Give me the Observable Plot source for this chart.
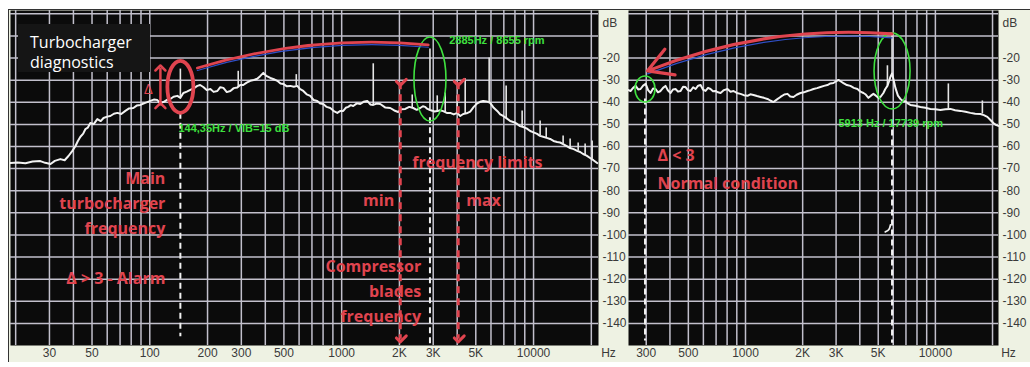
<!DOCTYPE html>
<html><head><meta charset="utf-8">
<script src="https://cdn.jsdelivr.net/npm/d3@7"></script>
<script src="https://cdn.jsdelivr.net/npm/@observablehq/plot@0.6"></script>
<style>
html,body{margin:0;padding:0;background:#fff;}
#wrap{position:relative;width:1030px;height:367px;overflow:hidden;background:#fff;}
#cream{position:absolute;left:8px;top:9px;width:1022px;height:353px;background:#eef2e3;border-top:1px solid #333;border-left:1px solid #333;box-sizing:border-box;}
.panel{position:absolute;top:0;}
#title{position:absolute;left:18px;top:24px;width:132px;height:48px;background:#151515;color:#fff;font:16px "Open Sans",sans-serif;line-height:20px;padding:8px 0 0 12px;box-sizing:border-box;}
</style></head>
<body>
<div id="wrap"><div id="cream"></div><div id="left" class="panel" style="left:0"></div><div id="right" class="panel" style="left:628px"></div><div id="title">Turbocharger<br>diagnostics</div></div>
<script>
// ---- data ----
const leftHz = [
 18.8, 20.5, 22.5, 24.5, 26.9, 28.5, 30.4, 32, 34.2, 36,
 37.7, 39.5, 41, 42.2, 43.5, 45, 46.2, 47.5, 49, 51,
 53.3, 55.5, 57.4, 60, 62.3, 65, 67.8, 71, 74.6, 78,
 82.1, 85.5, 89.4, 94, 100.7, 105, 109.5, 113, 117.7, 123,
 128, 133, 139.3, 144.35, 149.6, 156, 162.7, 170, 177, 183,
 190, 198, 206.9, 215, 225, 233, 241.8, 252, 263, 274,
 286, 296, 307, 320, 334, 348, 363, 376, 390.6, 405,
 424.8, 443, 462, 480, 496.5, 518, 540, 563, 587, 608,
 631, 657, 686, 715, 746, 773, 802, 835, 872, 910,
 949, 985, 1019, 1050, 1082, 1115, 1149, 1200, 1250, 1300,
 1360, 1410, 1461, 1520, 1589, 1690, 1791, 1880, 1971, 2050,
 2145, 2250, 2360, 2460, 2567, 2650, 2725, 2800, 2885, 2965,
 3050, 3148, 3260, 3382, 3530, 3678, 3840, 4000, 4150, 4299,
 4480, 4675, 4880, 5085, 5270, 5465, 5700, 5943, 6200, 6463,
 6700, 6945, 7250, 7553, 7900, 8215, 8500, 8829, 9200, 9603,
 10000, 10440, 10800, 11220, 11700, 12200, 12700, 13270, 13750, 14260,
 14900, 15510, 16200, 16870, 17500, 18130, 18900, 19710, 20500, 21450
];
const leftDb = [
 -67.5, -67.2, -67.6, -66.8, -66.6, -67.4, -67.9, -66.5, -65.7, -66.2,
 -64.3, -62, -59.8, -57.5, -55.6, -54.2, -52.1, -51.5, -49.4, -49.9,
 -47.6, -48.5, -47.1, -46.5, -46.2, -45.2, -44.8, -45.3, -43.9, -42.8,
 -42.6, -41.5, -41.2, -40.4, -39.4, -38.8, -39, -40.3, -39.9, -38.9,
 -38.5, -37.5, -37.1, -38, -35.8, -35.2, -34.4, -33.6, -32.6, -32.2,
 -33.1, -34.5, -34, -35.3, -34.9, -33.2, -33.5, -35.4, -34.9, -33.6,
 -33.3, -32.2, -32.2, -31.1, -30.3, -29.9, -29.4, -28.2, -26.7, -28.1,
 -29, -29.6, -30.3, -31.5, -31.7, -32.8, -32.6, -33, -32.6, -34.1,
 -34.9, -36.4, -37.1, -39, -39.4, -40.6, -40.8, -42.1, -42.6, -44,
 -44.8, -43.9, -43.9, -42.5, -42.1, -41.3, -41.7, -40.5, -40.8, -39.8,
 -39.4, -41, -41.2, -40.6, -40.8, -42.4, -42.6, -43.7, -44.4, -43.2,
 -43, -42.1, -42.6, -43.4, -42.6, -41.8, -42.1, -43, -43.5, -43.8,
 -44.2, -44, -43.6, -44, -44.8, -44.8, -45.5, -44.8, -46.2, -45.3,
 -45, -44.2, -42.1, -40.5, -39.8, -39.4, -39.6, -40.3, -42.5, -43.9,
 -45.5, -46.2, -47.3, -48.5, -49, -49.8, -50.8, -51.2, -51.8, -53,
 -53.6, -54.3, -55.2, -55.6, -56.1, -56.6, -57.5, -58, -58.2, -58.9,
 -59.8, -60.7, -61.2, -62, -62.5, -63.4, -64.1, -65.2, -66.2, -67.5
];
const rightHz = [
 242, 248, 256, 264, 272, 280, 289, 298, 307, 316,
 326, 336, 346, 357, 368, 379, 390, 403, 415, 428,
 441, 455, 469, 483, 498, 513, 530, 546, 563, 580,
 598, 616, 635, 654, 674, 695, 716, 739, 770, 804,
 834, 865, 900, 941, 980, 1025, 1060, 1102, 1150, 1199,
 1250, 1306, 1350, 1404, 1460, 1528, 1600, 1664, 1720, 1789,
 1860, 1948, 2030, 2120, 2200, 2280, 2380, 2482, 2590, 2701,
 2800, 2905, 3000, 3086, 3180, 3279, 3420, 3569, 3720, 3886,
 4030, 4179, 4300, 4441, 4580, 4717, 4860, 5012, 5160, 5325,
 5450, 5590, 5700, 5797, 5913, 6030, 6158, 6350, 6542, 6750,
 6952, 7150, 7386, 7850, 8338, 8850, 9412, 10000, 10625, 11300,
 11995, 12700, 13540, 14400, 15285, 16200, 17255, 18000, 18780, 19500,
 20200, 20800, 21460
];
const rightDb = [
 -34.5, -34.9, -33.5, -32.6, -34.2, -34, -32.5, -31.7, -34.5, -35.8,
 -33.8, -34, -35.5, -34.9, -33.5, -32.6, -34.6, -35.8, -34.2, -34,
 -35.2, -34.9, -33, -33.1, -34.5, -34.9, -33.2, -34, -32.5, -32.2,
 -34.3, -34.9, -33.5, -34, -35, -34.9, -35.5, -35.8, -34.5, -34,
 -35.2, -34.9, -35.8, -36.2, -36.8, -37.1, -36.4, -36.7, -37.2, -37.6,
 -38, -38.5, -39.2, -39.9, -38.8, -37.6, -36.5, -36.2, -37.4, -37.6,
 -36.6, -35.8, -35.5, -34.9, -34.5, -34, -33.6, -33.1, -32.6, -32.2,
 -31.5, -31.3, -30.5, -29.9, -30.6, -31.3, -32.2, -32.6, -33.5, -34,
 -35.2, -35.8, -36.5, -38, -37, -36.2, -37, -38, -37.4, -35.8,
 -34, -32.6, -30.5, -28.5, -27, -30, -33.5, -37, -38.5, -39.4,
 -39.5, -40.5, -41.2, -41.6, -42.1, -42.5, -43, -43.2, -43.5, -43.2,
 -43, -43.6, -43.9, -44.3, -44.8, -45.2, -45.3, -45.8, -46.6, -48,
 -49.4, -50.2, -50.7
];
const leftSpikeHz   = [144.35, 289, 580, 1461, 2332, 2885, 3148, 3464, 4000, 4403, 5871, 7200, 8720, 10820, 11640, 14260, 15510, 17080, 18570, 20200];
const leftSpikeBase = [-38, -33.3, -32.6, -41.2, -42.5, -43.5, -44, -44.5, -44.8, -45.2, -40.1, -47, -51, -55, -56, -58.9, -60.7, -62, -63.8, -65.8];
const leftSpikeTop  = [-25, -26, -27.5, -22.6, -36.7, -15.9, -37.1, -35.8, -37, -29.4, -20, -32.6, -44, -48.5, -51.6, -55.3, -56.6, -58.4, -58.9, -57.5];
const rightSpikeHz   = [5590, 5913, 11705, 17680];
const rightSpikeBase = [-32.6, -27, -43, -45.3];
const rightSpikeTop  = [-23.5, -9.5, -31.7, -39.4];
const hookHz = [5800, 5720, 5450];
const hookDb = [-95.5, -97.8, -98.6];
const leftTicks = [30, 50, 100, 200, 300, 500, 1000, 2000, 3000, 5000, 10000];
const leftTickLabels = ["30", "50", "100", "200", "300", "500", "1000", "2K", "3K", "5K", "10000"];
const rightTicks = [300, 500, 1000, 2000, 3000, 5000, 10000];
const rightTickLabels = ["300", "500", "1000", "2K", "3K", "5K", "10000"];
const dbTicks = [-20, -30, -40, -50, -60, -70, -80, -90, -100, -110, -120, -130, -140];
const dbGrid = [0, -10, -20, -30, -40, -50, -60, -70, -80, -90, -100, -110, -120, -130, -140];
const hzGrid = [20, 30, 40, 50, 60, 70, 80, 90, 100, 200, 300, 400, 500, 600, 700, 800, 900,
  1000, 2000, 3000, 4000, 5000, 6000, 7000, 8000, 9000, 10000, 20000];
const turboHzAlarm = 144.35, bladeHzAlarm = 2885;
const turboHzNormal = 295.65, bladeHzNormal = 5913;
const limitHz = [2020, 4048];

// ---- helpers ----
const zip2 = (a, b) => a.map((f, i) => ({f, db: b[i]}));
const zip3 = (a, b, c) => a.map((f, i) => ({f, base: b[i], top: c[i]}));
const GRID = "#c2c0cc", RED = "#e0444f", GREEN = "#3fe03f", WHITE = "#f2f2f2";
const RFONT = "'Open Sans', sans-serif", AFONT = "'Liberation Sans', Arial, sans-serif";
function ellipse(rx, ry) {
  const k = 0.5523;
  return {draw(c) {
    c.moveTo(rx, 0);
    c.bezierCurveTo(rx, ry * k, rx * k, ry, 0, ry);
    c.bezierCurveTo(-rx * k, ry, -rx, ry * k, -rx, 0);
    c.bezierCurveTo(-rx, -ry * k, -rx * k, -ry, 0, -ry);
    c.bezierCurveTo(rx * k, -ry, rx, -ry * k, rx, 0);
    c.closePath();
  }};
}
function common(domain, ticks, labels, spec, spikes) {
  return [
    Plot.frame({fill: "#0b0b0b"}),
    Plot.ruleX(hzGrid.filter(d => d > domain[0] && d < domain[1]), {stroke: GRID, strokeWidth: 1.5}),
    Plot.ruleY(dbGrid, {stroke: GRID, strokeWidth: 1.5}),
    Plot.text(ticks, {x: d => d, text: (d, i) => labels[i], frameAnchor: "bottom", lineAnchor: "top", dy: 3, fontSize: 12}),
    Plot.axisY({anchor: "right", ticks: dbTicks, tickFormat: d => String(d), tickSize: 0, tickPadding: 4, fontSize: 12, label: null}),
    Plot.text(["dB"], {frameAnchor: "top-right", dx: 4, dy: 8, textAnchor: "start", fontSize: 12}),
    Plot.text(["Hz"], {frameAnchor: "bottom-right", dx: 10, dy: 3, lineAnchor: "top", textAnchor: "middle", fontSize: 12}),
    Plot.ruleX(spikes, {x: "f", y1: "base", y2: "top", stroke: "#e6e6e6", strokeWidth: 1.6}),
    Plot.line(spec, {x: "f", y: "db", stroke: WHITE, strokeWidth: 2})
  ];
}
const styleObj = {background: "transparent", fontFamily: AFONT, color: "#3a3a3a", overflow: "visible"};
const greenText = {textAnchor: "start", fill: GREEN, fontSize: 11, fontWeight: 700, fontFamily: AFONT};
const redText = {fill: RED, fontSize: 16, fontWeight: 700, fontFamily: RFONT};

// ---- left panel ----
const leftDomain = [18.8, 21800];
const left = Plot.plot({
  width: 630, height: 367, marginLeft: 10, marginRight: 32, marginTop: 10, marginBottom: 22,
  style: styleObj,
  x: {type: "log", domain: leftDomain, axis: null},
  y: {domain: [-150, 1.5]},
  marks: [
    ...common(leftDomain, leftTicks, leftTickLabels, zip2(leftHz, leftDb), zip3(leftSpikeHz, leftSpikeBase, leftSpikeTop)),
    Plot.ruleX([turboHzAlarm], {y1: -45, y2: -146, stroke: WHITE, strokeWidth: 2, strokeDasharray: "6,4"}),
    Plot.ruleX([bladeHzAlarm], {y1: -47, y2: -150, stroke: WHITE, strokeWidth: 2, strokeDasharray: "6,4"}),
    Plot.link(limitHz, {x1: d => d, x2: d => d, y1: -31, y2: -147, stroke: RED, strokeWidth: 3, strokeDasharray: "7,5", markerStart: "arrow", markerEnd: "arrow"}),
    Plot.dot([turboHzAlarm], {x: d => d, y: -33, symbol: ellipse(13, 26), fill: "none", stroke: RED, strokeWidth: 3.8}),
    Plot.link([113.6], {x1: d => d, x2: d => d, y1: -41.5, y2: -24.5, stroke: RED, strokeWidth: 2.5, markerStart: "arrow", markerEnd: "arrow"}),
    Plot.text(["Δ"], {x: 98.3, y: -34, fill: RED, fontSize: 15, fontFamily: RFONT}),
    Plot.dot([bladeHzAlarm], {x: d => d, y: -29.5, symbol: ellipse(16, 42), fill: "none", stroke: GREEN, strokeWidth: 1.6}),
    Plot.arrow([0], {x1: 177, y1: -24.5, x2: 2825, y2: -14, bend: 11, stroke: "#3050c8", strokeWidth: 1.2, headLength: 0, dy: 2.5}),
    Plot.arrow([0], {x1: 177, y1: -24.5, x2: 2825, y2: -14, bend: 11, stroke: RED, strokeWidth: 2.8, headLength: 0}),
    Plot.text(["2885Hz / 8655 rpm"], {x: 3634, y: -12.2, ...greenText}),
    Plot.text(["144,35Hz / VIB=15 dB"], {x: 141, y: -52, ...greenText}),
    Plot.text(["Main\nturbocharger\nfrequency"], {x: 120.6, y: -84.7, textAnchor: "end", lineHeight: 1.56, ...redText}),
    Plot.text(["Δ > 3 - Alarm"], {x: 120.6, y: -120, textAnchor: "end", ...redText}),
    Plot.text(["frequency limits"], {x: 2332, y: -67.5, textAnchor: "start", ...redText}),
    Plot.text(["min"], {x: 1879, y: -84.7, textAnchor: "end", ...redText}),
    Plot.text(["max"], {x: 4457, y: -84.7, textAnchor: "start", ...redText}),
    Plot.text(["Compressor\nblades\nfrequency"], {x: 2597, y: -124.5, textAnchor: "end", lineHeight: 1.56, ...redText})
  ]
});
document.getElementById("left").appendChild(left);

// ---- right panel ----
const rightDomain = [242, 21500];
const right = Plot.plot({
  width: 402, height: 367, marginLeft: 0, marginRight: 32, marginTop: 10, marginBottom: 22,
  style: styleObj,
  x: {type: "log", domain: rightDomain, axis: null},
  y: {domain: [-150, 1.5]},
  marks: [
    ...common(rightDomain, rightTicks, rightTickLabels, zip2(rightHz, rightDb), zip3(rightSpikeHz, rightSpikeBase, rightSpikeTop)),
    Plot.line(zip2(hookHz, hookDb), {x: "f", y: "db", stroke: WHITE, strokeWidth: 1.8, curve: "basis"}),
    Plot.ruleX([turboHzNormal], {y1: -38.5, y2: -148, stroke: WHITE, strokeWidth: 2, strokeDasharray: "6,4"}),
    Plot.ruleX([bladeHzNormal], {y1: -48, y2: -149, stroke: WHITE, strokeWidth: 2, strokeDasharray: "6,4"}),
    Plot.dot([turboHzNormal], {x: d => d, y: -34, symbol: ellipse(10, 13), fill: "none", stroke: GREEN, strokeWidth: 1.6}),
    Plot.dot([bladeHzNormal], {x: d => d, y: -25.8, symbol: ellipse(18, 38), fill: "none", stroke: GREEN, strokeWidth: 1.6}),
    Plot.arrow([0], {x1: 5913, y1: -9.5, x2: 305, y2: -25.8, bend: -13, stroke: "#3050c8", strokeWidth: 1.2, headLength: 0, dy: 3}),
    Plot.arrow([0], {x1: 5913, y1: -9.1, x2: 305, y2: -25.8, bend: -13, stroke: RED, strokeWidth: 3.2, headLength: 13}),
    Plot.text(["5913 Hz / 17739 rpm"], {x: 3086, y: -49.4, ...greenText}),
    Plot.text(["Δ < 3"], {x: 344, y: -64.3, textAnchor: "start", ...redText}),
    Plot.text(["Normal condition"], {x: 344, y: -77, textAnchor: "start", ...redText})
  ]
});
document.getElementById("right").appendChild(right);
</script>
</body></html>
